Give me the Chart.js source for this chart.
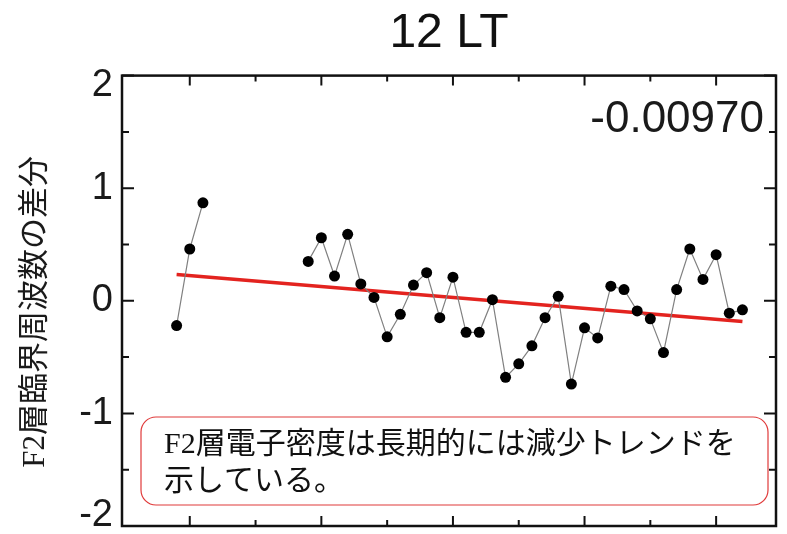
<!DOCTYPE html>
<html>
<head>
<meta charset="utf-8">
<script src="https://cdn.jsdelivr.net/npm/chart.js@4/dist/chart.umd.min.js"></script>
<style>
    html, body { margin: 0; padding: 0; background: #fff; }
    canvas { display: block; }
</style>
</head>
<body>
<canvas id="foF2-chart" width="787" height="534"></canvas>
<script>
(function (Chart) {
    const canvas = document.getElementById("foF2-chart");

    // yearly foF2 difference at 12 LT (gap 1962-1968 = no data)
    const years = [
        1959, 1960, 1961, 1962, 1963, 1964, 1965, 1966, 1967, 1968,
        1969, 1970, 1971, 1972, 1973, 1974, 1975, 1976, 1977, 1978,
        1979, 1980, 1981, 1982, 1983, 1984, 1985, 1986, 1987, 1988,
        1989, 1990, 1991, 1992, 1993, 1994, 1995, 1996, 1997, 1998,
        1999, 2000, 2001, 2002
    ];
    const diffs = [
        -0.22, 0.46, 0.87, null, null, null, null, null, null, null,
        0.35, 0.56, 0.22, 0.59, 0.15, 0.03, -0.32, -0.12, 0.14, 0.25,
        -0.15, 0.21, -0.28, -0.28, 0.01, -0.68, -0.56, -0.40, -0.15, 0.04,
        -0.74, -0.24, -0.33, 0.13, 0.10, -0.09, -0.16, -0.46, 0.10, 0.46,
        0.19, 0.41, -0.11, -0.08
    ];

    // linear trend: slope per year, value at the centre year
    const trendSlope = -0.00970;
    const trendCenterYear = 1980.5;
    const trendCenterValue = 0.0255;
    const trendYears = [1959, 2002];

    const yTickValues = [-2, -1, 0, 1, 2];
    const yTickLabels = ["-2", "-1", "0", "1", "2"];
    const yMinorTicks = [-1.5, -0.5, 0.5, 1.5];
    const xMajorTicks = [1960, 1970, 1980, 1990, 2000];
    const xMinorTicks = [1965, 1975, 1985, 1995];

    const titleText = "12 LT";
    const yTitle = "F2層臨界周波数の差分";
    const slopeText = trendSlope.toFixed(5);
    const noteLines = ["F2層電子密度は長期的には減少トレンドを", "示している。"];

    const sans = "'Liberation Sans', Arial, sans-serif";
    const jp = "'Liberation Serif', 'Noto Sans CJK JP', serif";

    const points = years.map((yr, i) => ({ x: yr, y: diffs[i] }));
    const trend = trendYears.map(yr => ({
        x: yr,
        y: trendCenterValue + trendSlope * (yr - trendCenterYear)
    }));

    // box, inward ticks, tick labels and text overlays
    const frame = {
        id: "frame",
        afterDraw(chart) {
            const { ctx, chartArea: a, scales: { x, y } } = chart;
            ctx.save();
            ctx.strokeStyle = "#111";
            ctx.lineWidth = 2;
            ctx.beginPath();
            const hTick = (v, len) => {
                const py = y.getPixelForValue(v);
                ctx.moveTo(a.left, py); ctx.lineTo(a.left + len, py);
                ctx.moveTo(a.right, py); ctx.lineTo(a.right - len, py);
            };
            const vTick = (v, len) => {
                const px = x.getPixelForValue(v);
                ctx.moveTo(px, a.top); ctx.lineTo(px, a.top + len);
                ctx.moveTo(px, a.bottom); ctx.lineTo(px, a.bottom - len);
            };
            yTickValues.forEach(v => hTick(v, 12));
            yMinorTicks.forEach(v => hTick(v, 7));
            xMajorTicks.forEach(v => vTick(v, 10));
            xMinorTicks.forEach(v => vTick(v, 6));
            ctx.stroke();

            ctx.lineWidth = 2.5;
            ctx.strokeRect(a.left, a.top, a.right - a.left, a.bottom - a.top);

            // y tick labels, kept inside the frame at the ends
            ctx.fillStyle = "#1a1a1a";
            ctx.font = `38px ${sans}`;
            ctx.textAlign = "right";
            ctx.textBaseline = "middle";
            yTickValues.forEach((v, i) => {
                const py = Math.min(Math.max(y.getPixelForValue(v), a.top + 10), a.bottom - 10);
                ctx.fillText(yTickLabels[i], a.left - 9, py);
            });

            // slope
            ctx.font = `44px ${sans}`;
            ctx.textBaseline = "alphabetic";
            ctx.fillText(slopeText, a.right - 12, a.top + 56);

            // vertical axis title
            ctx.save();
            ctx.translate(36, (a.top + a.bottom) / 2 + 11);
            ctx.rotate(-Math.PI / 2);
            ctx.font = `31px ${jp}`;
            ctx.textAlign = "center";
            ctx.textBaseline = "middle";
            ctx.fillText(yTitle, 0, 0);
            ctx.restore();

            // note box
            const bx = a.left + 19, by = a.bottom - 109, bw = a.right - a.left - 27, bh = 88;
            ctx.beginPath();
            ctx.roundRect(bx, by, bw, bh, 15);
            ctx.fillStyle = "#fff";
            ctx.fill();
            ctx.lineWidth = 1.2;
            ctx.strokeStyle = "#e03a3a";
            ctx.stroke();
            ctx.fillStyle = "#111";
            ctx.font = `30px ${jp}`;
            ctx.textAlign = "left";
            noteLines.forEach((line, i) => ctx.fillText(line, bx + 23, by + 36 + i * 37));
            ctx.restore();
        }
    };

    new Chart(canvas, {
        type: "line",
        data: {
            datasets: [{
                label: "diff",
                data: points,
                borderColor: "#808080",
                borderWidth: 1.2,
                pointRadius: 5.5,
                pointBackgroundColor: "#000",
                pointBorderWidth: 0,
                spanGaps: false,
                tension: 0,
                order: 0
            }, {
                label: "trend",
                data: trend,
                borderColor: "#e3231f",
                borderWidth: 3.5,
                pointRadius: 0,
                tension: 0,
                order: 1
            }]
        },
        options: {
            responsive: false,
            animation: { duration: 0 },
            layout: {
                padding: { left: 122, right: 11, top: 0, bottom: 8 }
            },
            scales: {
                x: { type: "linear", min: 1954.85, max: 2004.55, display: false },
                y: { min: -2, max: 2, display: false }
            },
            plugins: {
                legend: { display: false },
                tooltip: { enabled: false },
                title: {
                    display: true,
                    text: titleText,
                    fullSize: false,
                    color: "#111",
                    font: { family: sans, size: 48, weight: "normal", lineHeight: 1.2 },
                    padding: { top: 5, bottom: 13 }
                }
            }
        },
        plugins: [frame]
    });
}(Chart));
</script>
</body>
</html>
